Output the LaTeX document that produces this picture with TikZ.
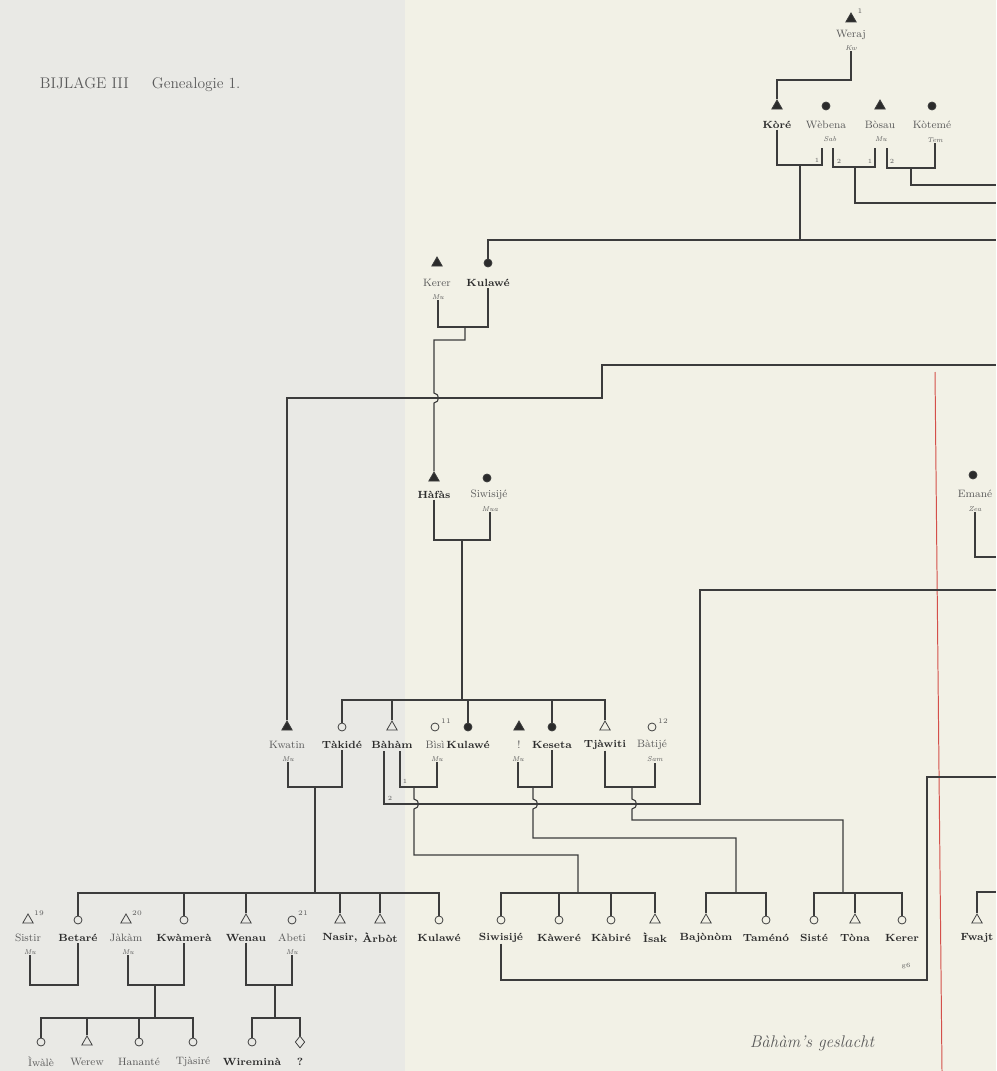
\documentclass[tikz,border=0pt]{standalone}
\usepackage{tikz}
\usetikzlibrary{shapes.geometric}
\definecolor{GenPaper}{HTML}{F2F1E6}
\definecolor{GenShade}{HTML}{E9E9E5}
\definecolor{GenInk}{HTML}{3C3C3C}
\definecolor{GenText}{HTML}{2B2B2B}
\definecolor{GenMuted}{HTML}{5A5A5A}
\definecolor{GenRed}{HTML}{D4504A}

\begin{document}
\begin{tikzpicture}[
  x=0.025cm,y=-0.025cm,
  ln/.style={draw=GenInk,line width=0.8pt},
  man/.style={regular polygon,regular polygon sides=3,minimum size=0.30cm,
    inner sep=0pt,draw=GenInk,line width=0.55pt},
  dman/.style={man,fill=GenText},
  vrouw/.style={circle,minimum size=0.20cm,inner sep=0pt,draw=GenInk,
    line width=0.55pt},
  dvrouw/.style={vrouw,fill=GenText},
  onbek/.style={diamond,minimum width=0.24cm,minimum height=0.30cm,
    inner sep=0pt,draw=GenInk,line width=0.55pt},
  nm/.style={inner sep=0.5pt,text=GenMuted,font=\fontsize{7.6}{8}\selectfont},
  nmb/.style={inner sep=0.5pt,text=GenText,
    font=\bfseries\fontsize{7.4}{8}\selectfont},
  ondr/.style={inner sep=0.5pt,text=GenMuted,
    font=\itshape\fontsize{5}{5.5}\selectfont},
  supnr/.style={inner sep=0pt,text=GenMuted,font=\fontsize{5}{5.5}\selectfont},
  hnr/.style={inner sep=0pt,text=GenMuted,font=\fontsize{4.5}{5}\selectfont}
]
\fill[GenPaper] (0,0) rectangle (996,1071);
\fill[GenShade] (0,0) rectangle (405,1071);
\useasboundingbox (0,0) rectangle (996,1071);

\draw[GenRed,line width=0.7pt] (935,372) -- (942,1071);

\node[font=\fontsize{11}{12}\selectfont,text=GenMuted,anchor=west] (titel)
  at (35,85) {BIJLAGE III\hspace{1.5em}Genealogie 1.};
\node[font=\itshape\fontsize{12}{14}\selectfont,text=GenMuted] (geslacht)
  at (812,1043) {Bàhàm's geslacht};
\node[hnr] (sign) at (906,966) {g6};

% top generation
\node[dman] (weraj) at (851,19) {};
\node[supnr] (weraj-x) at (860,11) {1};
\node[nm] (weraj-n) at (851,35) {Weraj};
\node[ondr] (weraj-s) at (851,48) {Kw};
\node[dman] (kore) at (777,106) {};
\node[nmb] (kore-n) at (777,125) {Kòré};
\node[dvrouw] (webena) at (826,106) {};
\node[nm] (webena-n) at (826,125) {Wèbena};
\node[ondr] (webena-s) at (830,139) {Sab};
\node[dman] (bosau) at (880,106) {};
\node[nm] (bosau-n) at (880,125) {Bòsau};
\node[ondr] (bosau-s) at (881,139) {Mu};
\node[dvrouw] (koteme) at (932,106) {};
\node[nm] (koteme-n) at (932,125) {Kòtemé};
\node[ondr] (koteme-s) at (935,140) {Tem};

\draw[ln] (weraj-s.south) |- (kore |- 0,80) -- (kore.north);
\draw[ln] (kore-n.south) |- (822,165) -- (822,148);
\node[hnr] (nr-a) at (817,160) {1};
\draw[ln] (833,148) |- (875,167) -- (875,148);
\node[hnr] (nr-b) at (839,161) {2};
\node[hnr] (nr-c) at (870,161) {1};
\draw[ln] (887,148) |- (koteme-s.south |- 0,168) -- (koteme-s.south);
\node[hnr] (nr-d) at (892,161) {2};
\draw[ln] (800,165) -- (800,240);
\draw[ln] (855,167) |- (996,203);
\draw[ln] (911,168) |- (996,185);

% Kerer x Kulawe
\node[dman] (kerer) at (437,263) {};
\node[nm] (kerer-n) at (437,283) {Kerer};
\node[ondr] (kerer-s) at (438,297) {Mu};
\node[dvrouw] (kulawe) at (488,263) {};
\node[nmb] (kulawe-n) at (488,283) {Kulawé};
\draw[ln] (kulawe.north) -- (kulawe.north |- 0,240) -- (996,240);
\draw[ln] (kerer-s.south) |- (kulawe-n.south |- 0,327) -- (kulawe-n.south);

% Hafas x Siwisije
\node[dman] (hafas) at (434,478) {};
\node[nmb] (hafas-n) at (434,495) {Hàfàs};
\node[dvrouw] (siwisije) at (487,478) {};
\node[nm] (siwisije-n) at (489,495) {Siwisijé};
\node[ondr] (siwisije-s) at (490,509) {Mua};
\draw[ln] (hafas-n.south) |- (siwisije-s.south |- 0,540) -- (siwisije-s.south);
\draw[ln] (465,327) |- (434,340) -- (434,393)
  .. controls (440,394) and (440,402) .. (434,403) -- (hafas.north);

\node[dvrouw] (emane) at (973,475) {};
\node[nm] (emane-n) at (975,494) {Emané};
\node[ondr] (emane-s) at (975,509) {Zea};
\draw[ln] (emane-s.south) |- (996,557);

% middle generation
\node[dman] (kwatin) at (287,727) {};
\node[nm] (kwatin-n) at (287,745) {Kwatin};
\node[ondr] (kwatin-s) at (288,759) {Mu};
\node[vrouw] (takide) at (342,727) {};
\node[nmb] (takide-n) at (342,745) {Tàkidé};
\node[man] (baham) at (392,727) {};
\node[nmb] (baham-n) at (392,745) {Bàhàm};
\node[vrouw] (bisi) at (435,727) {};
\node[supnr] (bisi-x) at (446,721) {11};
\node[nm] (bisi-n) at (435,745) {Bìsì};
\node[ondr] (bisi-s) at (437,759) {Mu};
\node[dvrouw] (kulawe2) at (468,727) {};
\node[nmb] (kulawe2-n) at (468,745) {Kulawé};
\node[dman] (excl) at (519,727) {};
\node[nm] (excl-n) at (519,745) {!};
\node[ondr] (excl-s) at (518,759) {Mu};
\node[dvrouw] (keseta) at (552,727) {};
\node[nmb] (keseta-n) at (552,745) {Keseta};
\node[man] (tjawiti) at (605,727) {};
\node[nmb] (tjawiti-n) at (605,745) {Tjàwiti};
\node[vrouw] (batije) at (652,727) {};
\node[supnr] (batije-x) at (663,721) {12};
\node[nm] (batije-n) at (652,745) {Bàtijé};
\node[ondr] (batije-s) at (655,759) {Sam};

\draw[ln] (kwatin.north) |- (602,398) |- (996,365);
\draw[ln] (462,540) -- (462,700);
\draw[ln] (takide.north) |- (tjawiti.north |- 0,700) -- (tjawiti.north);
\foreach \p in {baham,kulawe2,keseta}
  \draw[ln] (\p.north) -- (\p.north |- 0,700);

\draw[ln] (kwatin-s.south) |- (takide-n.south |- 0,787) -- (takide-n.south);
\draw[ln] (384,751) |- (700,804) |- (996,590);
\node[hnr] (nr-e) at (390,798) {2};
\draw[ln] (400,751) |- (bisi-s.south |- 0,787) -- (bisi-s.south);
\node[hnr] (nr-f) at (405,781) {1};
\draw[ln] (excl-s.south) |- (keseta-n.south |- 0,787) -- (keseta-n.south);
\draw[ln] (tjawiti-n.south) |- (batije-s.south |- 0,787) -- (batije-s.south);

\draw[ln] (315,787) -- (315,893);
\draw[ln] (414,787) -- (414,799) .. controls (420,800) and (420,808) .. (414,809)
  |- (578,855) -- (578,893);
\draw[ln] (533,787) -- (533,799) .. controls (539,800) and (539,808) .. (533,809)
  |- (736,838) -- (736,893);
\draw[ln] (632,787) -- (632,799) .. controls (638,800) and (638,808) .. (632,809)
  |- (843,820) -- (843,893);

% lower generation
\node[man] (sistir) at (28,920) {};
\node[supnr] (sistir-x) at (39,913) {19};
\node[nm] (sistir-n) at (28,938) {Sistir};
\node[ondr] (sistir-s) at (30,952) {Mu};
\node[vrouw] (betare) at (78,920) {};
\node[nmb] (betare-n) at (78,938) {Betaré};
\node[man] (jakam) at (126,920) {};
\node[supnr] (jakam-x) at (137,913) {20};
\node[nm] (jakam-n) at (126,938) {Jàkàm};
\node[ondr] (jakam-s) at (128,952) {Mu};
\node[vrouw] (kwamera) at (184,920) {};
\node[nmb] (kwamera-n) at (184,938) {Kwàmerà};
\node[man] (wenau) at (246,920) {};
\node[nmb] (wenau-n) at (246,938) {Wenau};
\node[vrouw] (abeti) at (292,920) {};
\node[supnr] (abeti-x) at (303,913) {21};
\node[nm] (abeti-n) at (292,938) {Abeti};
\node[ondr] (abeti-s) at (292,952) {Mu};
\node[man] (nasir) at (340,920) {};
\node[nmb] (nasir-n) at (340,938) {Nasir,};
\node[man] (arbot) at (380,920) {};
\node[nmb] (arbot-n) at (380,938) {Àrbòt};
\node[vrouw] (kulawe3) at (439,920) {};
\node[nmb] (kulawe3-n) at (439,938) {Kulawé};
\node[vrouw] (siwisije2) at (501,920) {};
\node[nmb] (siwisije2-n) at (501,938) {Siwisijé};
\node[vrouw] (kawere) at (559,920) {};
\node[nmb] (kawere-n) at (559,938) {Kàweré};
\node[vrouw] (kabire) at (611,920) {};
\node[nmb] (kabire-n) at (611,938) {Kàbiré};
\node[man] (isak) at (655,920) {};
\node[nmb] (isak-n) at (655,938) {Ìsak};
\node[man] (bajonom) at (706,920) {};
\node[nmb] (bajonom-n) at (706,938) {Bajònòm};
\node[vrouw] (tameno) at (766,920) {};
\node[nmb] (tameno-n) at (766,938) {Taménó};
\node[vrouw] (siste) at (814,920) {};
\node[nmb] (siste-n) at (814,938) {Sisté};
\node[man] (tona) at (855,920) {};
\node[nmb] (tona-n) at (855,938) {Tòna};
\node[vrouw] (kerer2) at (902,920) {};
\node[nmb] (kerer2-n) at (902,938) {Kerer};
\node[man] (fwajt) at (977,920) {};
\node[nmb] (fwajt-n) at (977,938) {Fwajt};

\draw[ln] (betare.north) |- (kulawe3.north |- 0,893) -- (kulawe3.north);
\foreach \p in {kwamera,wenau,nasir,arbot}
  \draw[ln] (\p.north) -- (\p.north |- 0,893);
\draw[ln] (siwisije2.north) |- (isak.north |- 0,893) -- (isak.north);
\foreach \p in {kawere,kabire}
  \draw[ln] (\p.north) -- (\p.north |- 0,893);
\draw[ln] (bajonom.north) |- (tameno.north |- 0,893) -- (tameno.north);
\draw[ln] (siste.north) |- (kerer2.north |- 0,893) -- (kerer2.north);
\draw[ln] (tona.north) -- (tona.north |- 0,893);
\draw[ln] (fwajt.north) |- (996,892);

\draw[ln] (sistir-s.south) |- (betare-n.south |- 0,985) -- (betare-n.south);
\draw[ln] (jakam-s.south) |- (kwamera-n.south |- 0,985) -- (kwamera-n.south);
\draw[ln] (wenau-n.south) |- (abeti-s.south |- 0,985) -- (abeti-s.south);
\draw[ln] (siwisije2-n.south) |- (927,980) |- (996,777);

% lowest generation
\node[vrouw] (iwale) at (41,1042) {};
\node[nm] (iwale-n) at (41,1062) {Ìwàlè};
\node[man] (werew) at (87,1042) {};
\node[nm] (werew-n) at (87,1062) {Werew};
\node[vrouw] (hanante) at (139,1042) {};
\node[nm] (hanante-n) at (139,1062) {Hananté};
\node[vrouw] (tjasire) at (193,1042) {};
\node[nm] (tjasire-n) at (193,1062) {Tjàsiré};
\node[vrouw] (wiremina) at (252,1042) {};
\node[nmb] (wiremina-n) at (252,1062) {Wireminà};
\node[onbek] (onb) at (300,1042) {};
\node[nmb] (onb-n) at (300,1062) {?};

\draw[ln] (155,985) -- (155,1018);
\draw[ln] (275,985) -- (275,1018);
\draw[ln] (iwale.north) |- (tjasire.north |- 0,1018) -- (tjasire.north);
\foreach \p in {werew,hanante}
  \draw[ln] (\p.north) -- (\p.north |- 0,1018);
\draw[ln] (wiremina.north) |- (onb.north |- 0,1018) -- (onb.north);
\end{tikzpicture}
\end{document}
